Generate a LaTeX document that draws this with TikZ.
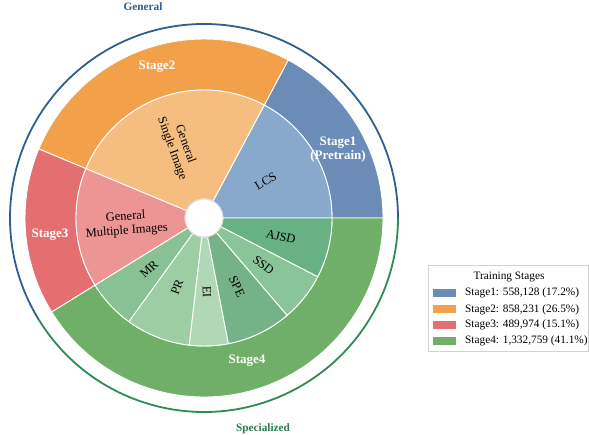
\documentclass[tikz,border=0pt]{standalone}
\usepackage{fontspec}
\setmainfont{Liberation Serif}
\definecolor{sOneOut}{HTML}{6A8CB6}
\definecolor{sOneIn}{HTML}{88A9CB}
\definecolor{sTwoOut}{HTML}{F3A04B}
\definecolor{sTwoIn}{HTML}{F5BE80}
\definecolor{sThreeOut}{HTML}{E46F71}
\definecolor{sThreeIn}{HTML}{EC9594}
\definecolor{sFourOut}{HTML}{70AF67}
\definecolor{cAJSD}{HTML}{67B185}
\definecolor{cSSD}{HTML}{8AC59A}
\definecolor{cSPE}{HTML}{76B288}
\definecolor{cEI}{HTML}{B1D8B6}
\definecolor{cPR}{HTML}{9DCDA2}
\definecolor{cMR}{HTML}{88C294}
\definecolor{genBlue}{HTML}{2D5F8F}
\definecolor{specGreen}{HTML}{2E8B57}
\newcommand\ringsect[5]{\filldraw[fill=#5,draw=white,line width=0.9pt] (#3:#1) arc[start angle=#3,end angle=#4,radius=#1] -- (#4:#2) arc[start angle=#4,end angle=#3,radius=#2] -- cycle;}
\tikzset{
  innerlbl/.style={font=\fontsize{12.5}{14}\selectfont, text=black, align=center, inner sep=0pt},
  outerlbl/.style={font=\fontsize{13}{14}\selectfont\bfseries, text=white, align=center, inner sep=0pt},
  grouplbl/.style={font=\fontsize{11.3}{13}\selectfont\bfseries, inner sep=0pt},
  legtext/.style={font=\fontsize{11.3}{13}\selectfont, anchor=west, inner sep=0pt},
  swatch/.style={minimum width=23pt, minimum height=8pt, inner sep=0pt, draw=none}
}
\begin{document}
\begin{tikzpicture}[x=1pt,y=1pt]
\useasboundingbox (0,0) rectangle (589,435);
\begin{scope}[shift={(204,217)}]
  % outer ring
  \ringsect{179}{128}{0}{61.92}{sOneOut}
  \ringsect{179}{128}{61.92}{157.32}{sTwoOut}
  \ringsect{179}{128}{157.32}{211.68}{sThreeOut}
  \ringsect{179}{128}{211.68}{360}{sFourOut}
  % inner ring
  \ringsect{128}{19}{0}{61.92}{sOneIn}
  \ringsect{128}{19}{61.92}{157.32}{sTwoIn}
  \ringsect{128}{19}{157.32}{211.68}{sThreeIn}
  \ringsect{128}{19}{211.68}{234.1}{cMR}
  \ringsect{128}{19}{234.1}{263.4}{cPR}
  \ringsect{128}{19}{263.4}{281}{cEI}
  \ringsect{128}{19}{281}{310.5}{cSPE}
  \ringsect{128}{19}{310.5}{332.7}{cSSD}
  \ringsect{128}{19}{332.7}{360}{cAJSD}
  % hole
  \node[circle, fill=white, draw=gray!30, line width=0.8pt, minimum size=38pt, inner sep=0pt] (hole) at (0,0) {};
  % outline arcs
  \draw[genBlue, line width=1.8pt] (0:194) arc[start angle=0,end angle=211.68,radius=194];
  \draw[specGreen, line width=1.8pt] (211.68:194) arc[start angle=211.68,end angle=360,radius=194];
  % inner labels
  \node[innerlbl, rotate=31] (lcs) at (31:72) {LCS};
  \node[innerlbl, rotate=-70.4] (gsi) at (109.6:76) {General\\Single Image};
  \node[innerlbl, rotate=4.5] (gmi) at (184.5:78) {General\\Multiple Images};
  \node[innerlbl, rotate=42.9] (mr) at (222.9:75) {MR};
  \node[innerlbl, rotate=68.75] (pr) at (248.75:74) {PR};
  \node[innerlbl, rotate=-87.8] (ei) at (272.2:74) {EI};
  \node[innerlbl, rotate=-64.25] (spe) at (295.75:76) {SPE};
  \node[innerlbl, rotate=-38.4] (ssd) at (321.6:76) {SSD};
  \node[innerlbl, rotate=-13.65] (ajsd) at (346.35:79) {AJSD};
  % outer labels
  \node[outerlbl] (st1) at (134,68) {Stage1\\(Pretrain)};
  \node[outerlbl] (st2) at (-47,151) {Stage2};
  \node[outerlbl] (st3) at (-154,-17) {Stage3};
  \node[outerlbl] (st4) at (43,-143) {Stage4};
\end{scope}
\node[grouplbl, text=genBlue] (gen) at (143,428) {General};
\node[grouplbl, text=specGreen!90!black] (spec) at (263,6) {Specialized};
% legend
\draw[gray!35, line width=0.6pt] (428,170) rectangle (588,83.3);
\node[font=\fontsize{11.3}{13}\selectfont, inner sep=0pt] (legtitle) at (509,157.7) {Training Stages};
\node[swatch, fill=sOneOut] (sw1) at (444.5,141.7) {};
\node[swatch, fill=sTwoOut] (sw2) at (444.5,125.5) {};
\node[swatch, fill=sThreeOut] (sw3) at (444.5,109.7) {};
\node[swatch, fill=sFourOut] (sw4) at (444.5,94) {};
\node[legtext] (lt1) at (465,141.7) {Stage1: 558,128 (17.2\%)};
\node[legtext] (lt2) at (465,125.5) {Stage2: 858,231 (26.5\%)};
\node[legtext] (lt3) at (465,109.7) {Stage3: 489,974 (15.1\%)};
\node[legtext] (lt4) at (465,94) {Stage4: 1,332,759 (41.1\%)};
\end{tikzpicture}
\end{document}
